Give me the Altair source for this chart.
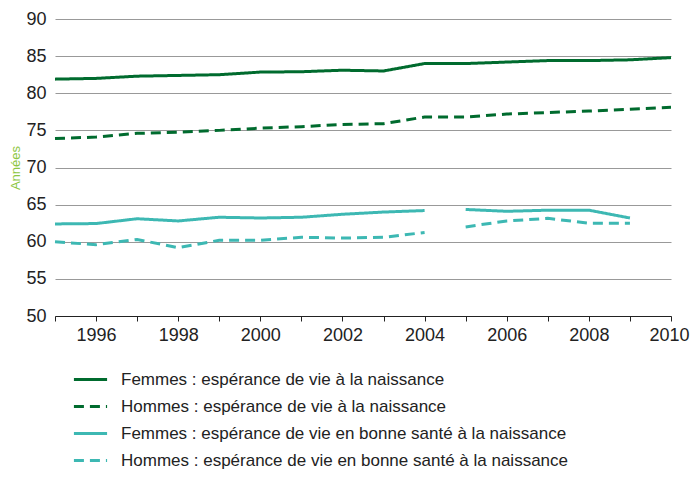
import altair as alt
import pandas as pd

years = list(range(1995, 2011))
femmes_le = [81.9, 82.0, 82.3, 82.4, 82.5, 82.85, 82.9, 83.1, 83.0, 84.0, 84.0, 84.2, 84.4, 84.4, 84.5, 84.8]
hommes_le = [73.9, 74.1, 74.6, 74.75, 75.0, 75.3, 75.5, 75.8, 75.9, 76.8, 76.8, 77.2, 77.4, 77.6, 77.85, 78.1]
femmes_hle = [62.4, 62.45, 63.1, 62.8, 63.3, 63.2, 63.3, 63.7, 64.0, 64.2, 64.35, 64.1, 64.25, 64.25, 63.2, None]
hommes_hle = [60.0, 59.6, 60.3, 59.2, 60.2, 60.2, 60.6, 60.5, 60.6, 61.25, 62.0, 62.8, 63.15, 62.5, 62.5, None]

series_names = [
    "Femmes : espérance de vie à la naissance",
    "Hommes : espérance de vie à la naissance",
    "Femmes : espérance de vie en bonne santé à la naissance",
    "Hommes : espérance de vie en bonne santé à la naissance",
]
colors = ["#006b2e", "#006b2e", "#3db8b3", "#3db8b3"]
dashes = [[1, 0], [10, 6], [1, 0], [10, 6]]

rows = []
for name, vals in zip(series_names, [femmes_le, hommes_le, femmes_hle, hommes_hle]):
    for y, v in zip(years, vals):
        if v is None:
            continue
        seg = "a" if y <= 2004 else "b"
        if "bonne" not in name:
            seg = "a"
        rows.append({"year": y, "value": v, "series": name, "seg": seg})
df = pd.DataFrame(rows)

font = "Liberation Sans, Arial, sans-serif"

leg = alt.Legend(title=None, orient="none", legendX=17, legendY=342,
                 symbolType="stroke", symbolSize=1100, symbolStrokeWidth=3,
                 labelFontSize=17, labelColor="#222", labelFont=font,
                 rowPadding=-11, labelLimit=600, labelOffset=12)

chart = alt.Chart(df).mark_line(strokeWidth=3).encode(
    x=alt.X("year:Q",
            scale=alt.Scale(domain=[1995, 2010], nice=False, zero=False),
            axis=alt.Axis(values=years, format="d", title=None, grid=False,
                          labelExpr="datum.value % 2 == 0 ? datum.label : ''",
                          domainColor="#222", tickColor="#222", tickSize=5,
                          labelFontSize=18, labelColor="#222", labelPadding=5,
                          labelFont=font, labelFlush=True, labelFlushOffset=18)),
    y=alt.Y("value:Q",
            scale=alt.Scale(domain=[50, 90], nice=False, zero=False),
            axis=alt.Axis(values=list(range(50, 95, 5)), title="Années",
                          titleColor="#8dc63f", titleFontSize=13, titleFontWeight="normal",
                          titleFont=font, titlePadding=3,
                          domain=False, ticks=False, gridColor="#999", gridWidth=1.2,
                          labelFontSize=18, labelColor="#222", labelPadding=9, labelFont=font)),
    color=alt.Color("series:N", scale=alt.Scale(domain=series_names, range=colors), legend=leg),
    strokeDash=alt.StrokeDash("series:N", scale=alt.Scale(domain=series_names, range=dashes), legend=leg),
    detail="seg:N",
    order="year:Q",
).properties(
    width=616, height=297,
    autosize=alt.AutoSizeParams(type="none"),
    padding={"left": 47, "top": 11, "right": 19, "bottom": 154},
).configure_view(stroke=None)

chart.save("out.html", embed_options={"renderer": "svg", "actions": False})
